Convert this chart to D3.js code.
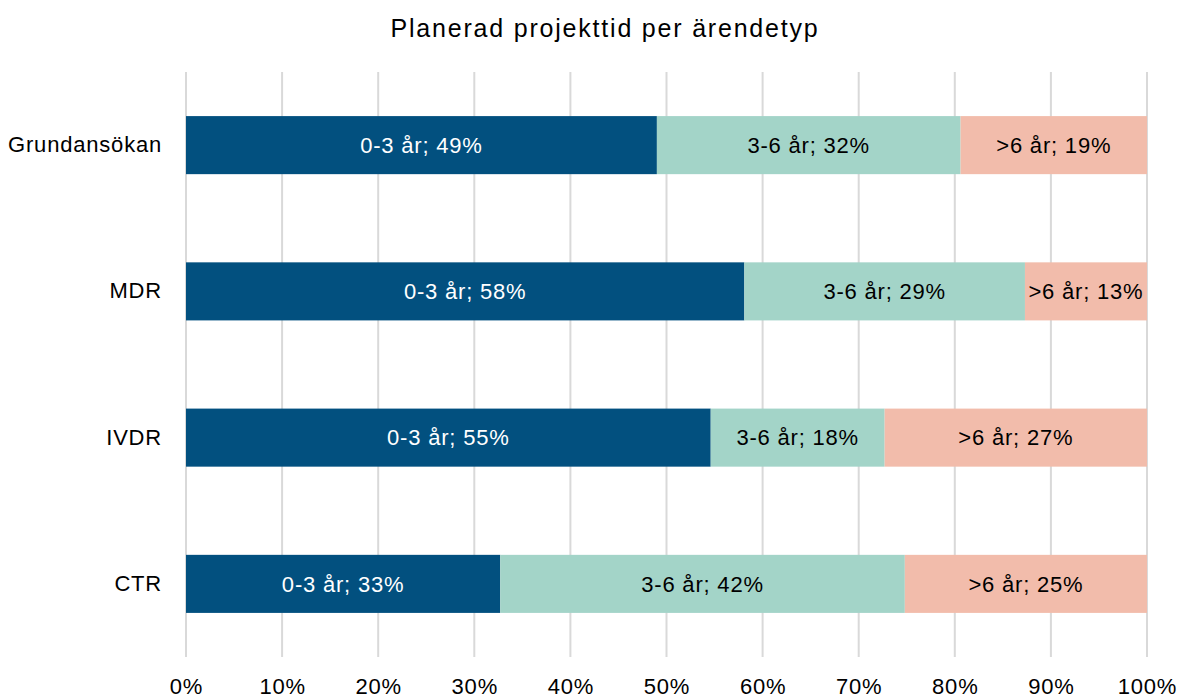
<!DOCTYPE html>
<html><head><meta charset="utf-8">
<script src="https://cdn.jsdelivr.net/npm/d3@7"></script>
<style>body{margin:0;background:#fff}svg text{font-family:"Liberation Sans",Arial,sans-serif}</style>
</head><body><svg id="c" width="1180" height="698"></svg>
<script>
const categories = ["Grundansökan","MDR","IVDR","CTR"];
const seriesNames = ["0-3 år","3-6 år",">6 år"];
const s0_3 = [0.490,0.581,0.546,0.327];
const s3_6 = [0.316,0.292,0.181,0.421];
const s6p  = [0.194,0.127,0.273,0.252];
const ticks = [0,0.1,0.2,0.3,0.4,0.5,0.6,0.7,0.8,0.9,1.0];
const colors = ["#02507f","#a3d4c8","#f2bcab"];
const textColors = ["#ffffff","#000000","#000000"];

const svg = d3.select("#c");
const x = d3.scaleLinear().domain([0,1]).range([186,1147]);
const y = d3.scaleBand().domain(categories).range([72,657]).padding(0);
const barH = y.bandwidth()*0.397;
const LS = "0.8px";

svg.append("text").attr("x",605).attr("y",37).attr("text-anchor","middle")
  .attr("font-size",25).attr("letter-spacing","1.8px").attr("fill","#000").text("Planerad projekttid per ärendetyp");

// gridlines
svg.append("g").selectAll("line").data(ticks).join("line")
  .attr("x1",d=>x(d)).attr("x2",d=>x(d)).attr("y1",72).attr("y2",657)
  .attr("stroke","#d9d9d9").attr("stroke-width",2);

// x axis labels
const xa = svg.append("g").attr("transform","translate(0,672)")
  .call(d3.axisBottom(x).tickValues(ticks).tickFormat(d3.format(".0%")).tickSize(0).tickPadding(0));
xa.select(".domain").remove();
xa.selectAll("text").attr("font-size",22).attr("letter-spacing",LS).attr("fill","#000").attr("dy","0.71em").attr("y",6);

// y axis labels
const ya = svg.append("g").attr("transform","translate(162,0)")
  .call(d3.axisLeft(y).tickSize(0).tickPadding(0));
ya.select(".domain").remove();
ya.selectAll("text").attr("font-size",22).attr("letter-spacing",LS).attr("fill","#000");

const table = categories.map((c,i)=>({cat:c, vals:[s0_3[i],s3_6[i],s6p[i]]}));
const stack = d3.stack().keys([0,1,2]).value((d,k)=>d.vals[k]);
const layers = stack(table);

const fmt = d3.format(".0%");
layers.forEach((layer,k)=>{
  const g = svg.append("g");
  g.selectAll("rect").data(layer).join("rect")
    .attr("x",d=>x(d[0])).attr("width",d=>x(d[1])-x(d[0]))
    .attr("y",d=>y(d.data.cat)+(y.bandwidth()-barH)/2).attr("height",barH)
    .attr("fill",colors[k]);
  g.selectAll("text").data(layer).join("text")
    .attr("x",d=>(x(d[0])+x(d[1]))/2)
    .attr("y",d=>y(d.data.cat)+y.bandwidth()/2).attr("dy","0.35em")
    .attr("text-anchor","middle").attr("font-size",22).attr("letter-spacing",LS).attr("fill",textColors[k])
    .text(d=>seriesNames[k]+"; "+fmt(Math.round(d.data.vals[k]*100)/100));
});
</script></body></html>
